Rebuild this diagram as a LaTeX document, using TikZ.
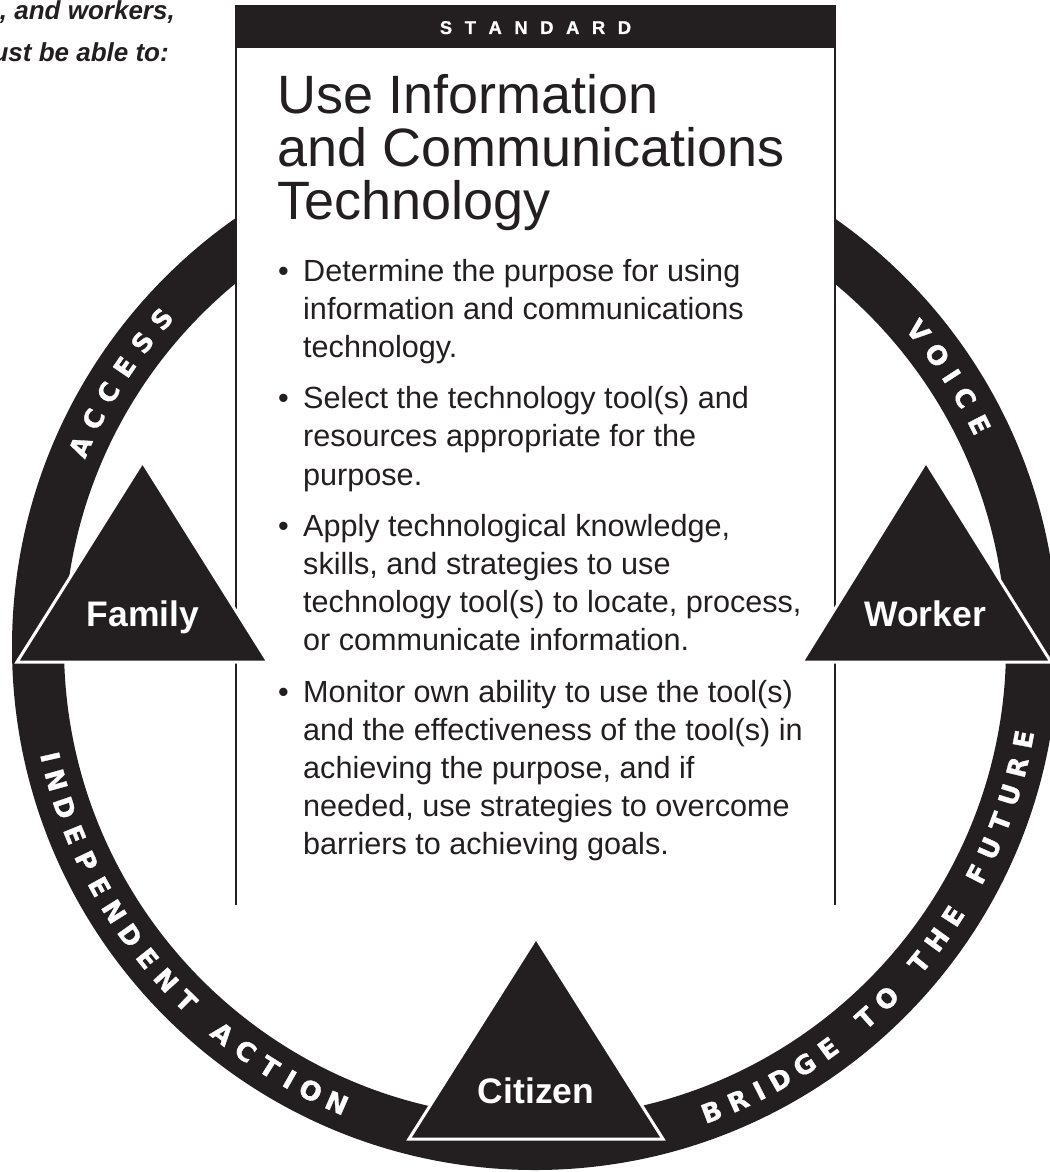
\documentclass[tikz,border=0pt]{standalone}
\usepackage{fontspec}
\setmainfont{Liberation Sans}
\newfontfamily\ringfont{DejaVu Sans Bold}[FakeBold=1.2]
\newfontfamily\stdfont{Liberation Sans Bold}[FakeBold=0.8]
\usetikzlibrary{calc}
\definecolor{ink}{HTML}{231F20}
\tikzset{
  tri/.style={fill=ink, draw=white, line width=3pt, line join=miter},
  lab/.style={anchor=base, inner sep=0pt, text=white, font=\bfseries\fontsize{35.5}{36}\selectfont},
  ttl/.style={anchor=base west, inner sep=0pt, text=ink, font=\fontsize{54}{54}\selectfont},
  body/.style={anchor=base west, inner sep=0pt, text=ink, font=\fontsize{30.6}{31}\selectfont},
  bul/.style={anchor=base, inner sep=0pt, text=ink, font=\fontsize{30.6}{31}\selectfont},
  ringlet/.style={anchor=center, inner sep=0pt, text=white, text height=19pt, text depth=0pt,
    font=\ringfont\fontsize{26}{26}\selectfont},
  topnote/.style={anchor=base east, inner sep=0pt, text=ink, font=\bfseries\itshape\fontsize{26}{26}\selectfont}
}
\begin{document}
\begin{tikzpicture}[x=1pt,y=-1pt]
\useasboundingbox (0,0) rectangle (1049,1172);
\coordinate (C) at (535,647);
% ring
\fill[ink, even odd rule] (C) circle[radius=523pt] (C) circle[radius=471pt];
% standard box
\fill[white] (236,5) rectangle (835,905);
\fill[ink] (236,5) rectangle (835,48);
\coordinate (bl1) at (236,5); \coordinate (bl2) at (236,905);
\coordinate (br1) at (835,5); \coordinate (br2) at (835,905);
\draw[ink, line width=1.1pt] (bl1) -- (bl2) (br1) -- (br2);
\node[anchor=base, inner sep=0pt, text=white, font=\stdfont\fontsize{18.5}{18.5}\selectfont] (std) at (535.5,34)
  {S\kern12.5pt T\kern12.5pt A\kern12.5pt N\kern12.5pt D\kern12.5pt A\kern12.5pt R\kern12.5pt D};
% title
\node[ttl] (t1) at (277,113) {Use Information};
\node[ttl] (t2) at (277,166) {and Communications};
\node[ttl] (t3) at (277,219) {Technology};
% bullets
\node[bul] (b1) at (283.5,281) {•};
\node[body] (l1) at (303,281) {Determine the purpose for using};
\node[body] (l2) at (303,319.2) {information and communications};
\node[body] (l3) at (303,357.4) {technology.};
\node[bul] (b2) at (283.5,408.6) {•};
\node[body] (l4) at (303,408.6) {Select the technology tool(s) and};
\node[body] (l5) at (303,446.8) {resources appropriate for the};
\node[body] (l6) at (303,485) {purpose.};
\node[bul] (b3) at (283.5,536.2) {•};
\node[body] (l7) at (303,536.2) {Apply technological knowledge,};
\node[body] (l8) at (303,574.4) {skills, and strategies to use};
\node[body] (l9) at (303,612.6) {technology tool(s) to locate, process,};
\node[body] (l10) at (303,650.8) {or communicate information.};
\node[bul] (b4) at (283.5,702) {•};
\node[body] (l11) at (303,702) {Monitor own ability to use the tool(s)};
\node[body] (l12) at (303,740.2) {and the effectiveness of the tool(s) in};
\node[body] (l13) at (303,778.4) {achieving the purpose, and if};
\node[body] (l14) at (303,816.6) {needed, use strategies to overcome};
\node[body] (l15) at (303,854.8) {barriers to achieving goals.};
% triangles
\filldraw[tri] (17,662) -- (268,662) -- (142.5,462) -- cycle;
\filldraw[tri] (802,662) -- (1051,662) -- (926,462) -- cycle;
\filldraw[tri] (409,1139) -- (663,1139) -- (536,938) -- cycle;
\node[lab] (family) at (143,626) {Family};
\node[lab] (worker) at (925,626) {Worker};
\node[lab] (citizen) at (536,1103) {Citizen};
% top-left note
\node[topnote] (n1) at (175,20) {, and workers,};
\node[topnote] (n2) at (169,62) {ust be able to:};
% ring words (clockwise, tops outward)
\foreach \ch/\a [count=\i] in {A/156.2, C/152.7, C/149.2, E/145.7, S/142.2, S/138.7}
  \node[ringlet, rotate=\a-90] (acc\i) at ([shift={(\a:497pt)}]C) {\ch};
\foreach \ch/\a [count=\i] in {V/39.5, O/35.97, I/33.05, C/30.13, E/26.6}
  \node[ringlet, rotate=\a-90] (voi\i) at ([shift={(\a:497pt)}]C) {\ch};
% ring words (counter-clockwise, tops inward)
\foreach \ch/\a [count=\i] in {I/192.8, N/195.54, D/198.86, E/202.18, P/205.5, E/208.82, N/212.14, D/215.46, E/218.78, N/222.1, T/225.42, A/231.06, C/234.38, T/237.7, I/240.44, O/243.18, N/246.5}
  \node[ringlet, rotate=\a+90] (ind\i) at ([shift={(\a:497pt)}]C) {\ch};
\foreach \ch/\a [count=\i] in {B/290.8, R/294.1, I/296.81, D/299.53, G/302.83, E/306.13, T/311.73, O/315.02, T/320.63, H/323.92, E/327.22, F/332.82, U/336.12, T/339.41, U/342.71, R/346.01, E/349.3}
  \node[ringlet, rotate=\a+90] (bri\i) at ([shift={(\a:497pt)}]C) {\ch};
\end{tikzpicture}
\end{document}
